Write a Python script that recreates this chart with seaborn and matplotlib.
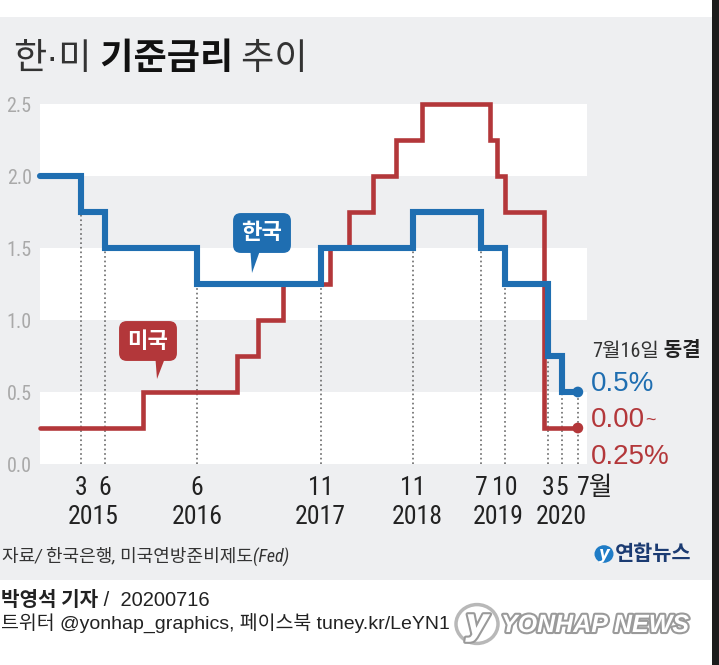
import matplotlib
matplotlib.use("Agg")
import matplotlib.pyplot as plt
import matplotlib.patheffects as pe
import matplotlib.dates as mdates
from matplotlib import font_manager
from matplotlib.patches import Rectangle, Circle
import seaborn as sns
import pandas as pd

# Korea base rate (step changes)
kr_dates = ["2014-10-01", "2015-03-12", "2015-06-12", "2016-06-09", "2017-10-10",
            "2018-10-06", "2019-07-01", "2019-10-04", "2020-03-21", "2020-05-13",
            "2020-07-16"]
kr_rates = [2.00, 1.75, 1.50, 1.25, 1.50, 1.75, 1.50, 1.25, 0.75, 0.50, 0.50]

# US federal funds rate (upper bound)
us_dates = ["2014-10-01", "2015-11-10", "2016-11-15", "2017-02-05", "2017-05-12",
            "2017-11-15", "2018-01-28", "2018-05-01", "2018-08-01", "2018-11-12",
            "2019-08-04", "2019-09-01", "2019-10-03", "2020-03-03", "2020-03-05",
            "2020-07-16"]
us_rates = [0.25, 0.50, 0.75, 1.00, 1.25, 1.50, 1.75, 2.00, 2.25, 2.50,
            2.25, 2.00, 1.75, 1.25, 0.25, 0.25]

month_labels = ["3", "6", "6", "11", "11", "7", "10", "3", "5", "7월"]
year_labels = ["2015", "2016", "2017", "2018", "2019", "2020"]
year_dates = ["2015-04-27", "2016-06-09", "2017-10-06", "2018-10-25",
              "2019-09-06", "2020-05-12"]
y_ticks = [0.0, 0.5, 1.0, 1.5, 2.0, 2.5]

BLUE = "#1f6eb1"
RED = "#b3373a"
BG = "#eeeff1"
W, H = 719, 665


def fx(x):
    return x / W


def fy(y):
    return 1 - y / H


sns.set_theme(style="white")
names = {f.name for f in font_manager.fontManager.ttflist}
NARROW = "Liberation Sans"
for cand in ["Liberation Sans Narrow", "Roboto Condensed", "Open Sans Condensed"]:
    if cand in names:
        NARROW = cand
        break
KR = "Noto Sans CJK KR"
plt.rcParams["font.family"] = [NARROW, KR, "DejaVu Sans"]

fig = plt.figure(figsize=(7.19, 6.65), dpi=100)
fig.patch.set_facecolor(BG)
fig.add_artist(Rectangle((0, fy(17)), 1, 17 / H, transform=fig.transFigure,
                         fc="white", ec="none", zorder=0))
fig.add_artist(Rectangle((0, 0), 1, fy(580), transform=fig.transFigure,
                         fc="white", ec="none", zorder=0))
fig.add_artist(Rectangle((fx(712), 0), 1, 1, transform=fig.transFigure,
                         fc="#1c1c1c", ec="none", zorder=10))

ax = fig.add_axes([fx(40), fy(464), fx(587) - fx(40), fy(104) - fy(464)])
ax.set_facecolor("none")
for lo in [0.0, 1.0, 2.0]:
    ax.axhspan(lo, lo + 0.5, color="white", lw=0, zorder=0)

kr = pd.DataFrame({"date": pd.to_datetime(kr_dates), "rate": kr_rates})
us = pd.DataFrame({"date": pd.to_datetime(us_dates), "rate": us_rates})

# dotted guide lines at each Korean rate decision
marks = mdates.date2num(kr["date"].iloc[1:])
tops = [min(a, b) for a, b in zip(kr_rates[:-1], kr_rates[1:])]
ax.vlines(marks, 0, tops, colors="#5e5e5e", linestyles=(0, (1.1, 1.9)), lw=1.1, zorder=1)

sns.lineplot(data=us, x="date", y="rate", drawstyle="steps-post", color=RED,
             lw=3.3, ax=ax, zorder=3, solid_joinstyle="miter")
sns.lineplot(data=kr, x="date", y="rate", drawstyle="steps-post", color=BLUE,
             lw=4.4, ax=ax, zorder=4, solid_joinstyle="miter")
for ln in ax.lines:
    ln.set_clip_on(False)

ends = pd.DataFrame({"date": [kr["date"].iloc[-1], us["date"].iloc[-1]],
                     "rate": [kr_rates[-1], us_rates[-1]],
                     "who": ["kr", "us"]})
sns.scatterplot(data=ends, x="date", y="rate", hue="who",
                palette={"kr": BLUE, "us": RED}, s=60, edgecolor="none",
                legend=False, ax=ax, zorder=5, clip_on=False)

ax.set_xlim(mdates.date2num(pd.Timestamp("2014-10-01")),
            mdates.date2num(pd.Timestamp("2020-08-21")))
ax.set_ylim(0, 2.5)
ax.set_xticks([])
ax.set_yticks(y_ticks)
ax.set_yticklabels([f"{v:.1f}" for v in y_ticks], fontsize=14.5, color="#a9a9a9",
                   family=NARROW)
ax.tick_params(axis="y", length=0, pad=6)
ax.set_xlabel("")
ax.set_ylabel("")
sns.despine(ax=ax, left=True, bottom=True)

xt = ax.get_xaxis_transform()
for d, lab in zip(marks, month_labels):
    if lab.endswith("월"):
        ax.annotate(lab, xy=(d, -0.066), xycoords=xt, xytext=(-1, 0),
                    textcoords="offset points", ha="left", va="center",
                    fontsize=18.5, color="#222")
    else:
        ax.text(d, -0.066, lab, transform=xt, ha="center", va="center",
                fontsize=18.5, color="#222")
for d, lab in zip(mdates.date2num(pd.to_datetime(year_dates)), year_labels):
    ax.text(d, -0.148, lab, transform=xt, ha="center", va="center",
            fontsize=18.5, color="#222")

# speech bubbles
for lab, col, box, tip in [("한국", BLUE, (262, 233), (252, 273)),
                           ("미국", RED, (148, 341), (157, 379))]:
    fig.text(fx(box[0]), fy(box[1]), lab, ha="center", va="center",
             fontsize=16, weight="bold", color="white", family=KR, zorder=6,
             bbox=dict(boxstyle="round,pad=0.38,rounding_size=0.35", fc=col, ec="none"))
    fig.add_artist(plt.Polygon([(fx(tip[0] - 2), fy(box[1] + 12)),
                                (fx(tip[0] + 10), fy(box[1] + 12)),
                                (fx(tip[0]), fy(tip[1]))],
                               closed=True, fc=col, ec="none",
                               transform=fig.transFigure, zorder=5))

# title
t1 = fig.text(fx(13), fy(60), "한·미", fontsize=26, family=["Liberation Sans", KR],
              weight="light", color="#333", va="center")
t2 = ax.annotate(" 기준금리", xy=(1, 0), xycoords=t1, va="bottom", ha="left",
                 fontsize=26, family=KR, weight="bold", color="#111")
ax.annotate(" 추이", xy=(1, 0), xycoords=t2, va="bottom", ha="left",
            fontsize=26, family=KR, weight="light", color="#333")

# right side notes
n1 = fig.text(fx(592), fy(351), "7월16일", fontsize=14.5, color="#333", va="center")
ax.annotate(" 동결", xy=(1, 0), xycoords=n1, va="bottom", ha="left",
            fontsize=14.5, weight="bold", color="#222", family=[KR])
fig.text(fx(591), fy(384), "0.5%", fontsize=20, color=BLUE, va="center",
         family=["Liberation Sans"])
n3 = fig.text(fx(591), fy(420), "0.00", fontsize=20, color=RED, va="center",
              family=["Liberation Sans"])
ax.annotate("~", xy=(1, 0.5), xycoords=n3, va="center", ha="left",
            fontsize=13, color=RED, family=["Liberation Sans"])
fig.text(fx(591), fy(457), "0.25%", fontsize=20, color=RED, va="center",
         family=["Liberation Sans"])

# footer
fig.text(fx(2), fy(556), "자료/ 한국은행, 미국연방준비제도(Fed)", fontsize=13,
         color="#333", va="center", style="italic")
fig.add_artist(Circle((fx(604), fy(554)), 9.5 / W, transform=fig.transFigure,
                      fc="#1f7cc6", ec="none"))
fig.text(fx(604), fy(554), "y", fontsize=12, color="white", ha="center",
         va="center", style="italic", weight="bold", family=["DejaVu Sans"])
fig.text(fx(615), fy(554), "연합뉴스", fontsize=15, weight="bold", color="#1b3b72",
         va="center", family=[KR])

f1 = fig.text(fx(1), fy(600), "박영석 기자", fontsize=14.5, weight="bold",
              color="#222", va="center", family=[KR])
ax.annotate(" /  20200716", xy=(1, 0), xycoords=f1, va="bottom", ha="left",
            fontsize=14.5, color="#222", family=["Liberation Sans", KR])
fig.text(fx(1), fy(623), "트위터 @yonhap_graphics, 페이스북 tuney.kr/LeYN1",
         fontsize=14, color="#222", va="center", family=["Liberation Sans", KR])

fig.add_artist(Circle((fx(477), fy(624)), 21 / W, transform=fig.transFigure,
                      fc="white", ec="#b8b8b8", lw=2.5))
fig.text(fx(477), fy(624), "y", fontsize=26, color="white", ha="center", va="center",
         style="italic", weight="bold", family=["DejaVu Sans"],
         path_effects=[pe.withStroke(linewidth=3, foreground="#9a9a9a")])
fig.text(fx(501), fy(625), "YONHAP NEWS", fontsize=18, color="white", va="center",
         style="italic", weight="bold", family=["Liberation Sans"],
         path_effects=[pe.withStroke(linewidth=3, foreground="#9a9a9a")])

fig.savefig("out.png", dpi=100, facecolor=fig.get_facecolor())
